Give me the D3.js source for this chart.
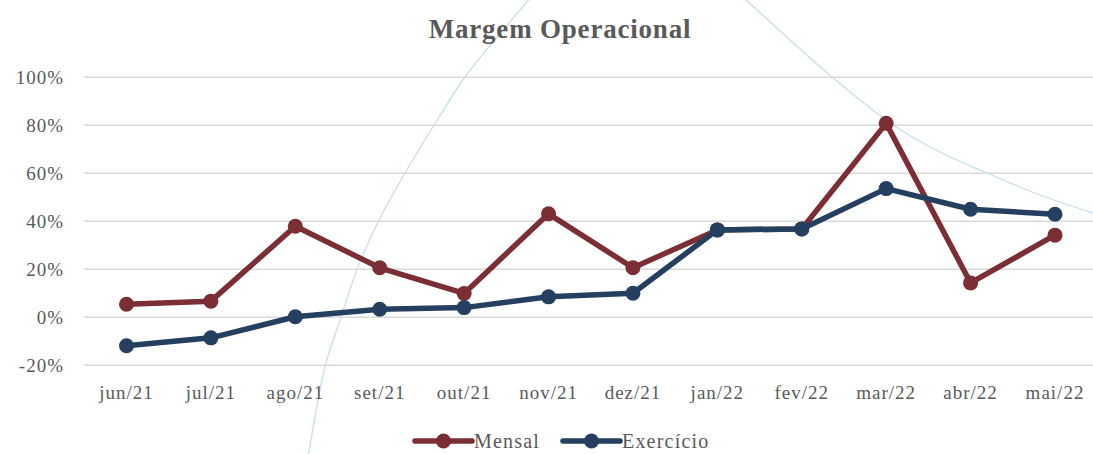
<!DOCTYPE html>
<html>
<head>
<meta charset="utf-8">
<script src="https://cdn.jsdelivr.net/npm/d3@7"></script>
<style>
  body { margin: 0; background: #fff; }
  svg text { font-family: 'Liberation Serif', serif; fill: #595959; }
</style>
</head>
<body>
<div id="chart"></div>
<script>
// data
var months = ['jun/21','jul/21','ago/21','set/21','out/21','nov/21','dez/21','jan/22','fev/22','mar/22','abr/22','mai/22'];
var mensal = [5.4, 6.7, 37.9, 20.6, 9.9, 43.1, 20.6, 36.4, 36.8, 80.8, 14.3, 34.2];
var exercicio = [-11.9, -8.6, 0.2, 3.3, 4.0, 8.5, 10.0, 36.4, 36.8, 53.6, 45.0, 42.9];
var yTicks = [-20, 0, 20, 40, 60, 80, 100];

var width = 1093, height = 454;
var svg = d3.select('#chart').append('svg')
    .attr('width', width).attr('height', height);

// scales
var x = d3.scalePoint().domain(months).range([126.5, 1055]);
var y = d3.scaleLinear().domain([-20, 100]).range([365.2, 77.3]);

// light decorative arcs in the background
var arc = d3.line().curve(d3.curveCatmullRom);
svg.append('path')
    .attr('d', arc([[308,458],[325,367],[340,320],[358,267],[378,222],[405,173],[433,127],[465,77],[503,30],[532,-4]]))
    .attr('fill', 'none').attr('stroke', '#c5dfea').attr('stroke-width', 1.3);
svg.append('path')
    .attr('d', arc([[742,-4],[790,40],[832,77],[893,125],[940,152],[987,173],[1040,195],[1096,214]]))
    .attr('fill', 'none').attr('stroke', '#c5dfea').attr('stroke-width', 1.3);

// grid lines
svg.append('g').selectAll('line')
    .data(yTicks).enter().append('line')
    .attr('x1', 84).attr('x2', width)
    .attr('y1', function(d) { return y(d); })
    .attr('y2', function(d) { return y(d); })
    .attr('stroke', '#d9d9d9').attr('stroke-width', 1.5);

// y axis labels
svg.append('g').selectAll('text')
    .data(yTicks).enter().append('text')
    .attr('x', 64).attr('y', function(d) { return y(d); })
    .attr('dy', '0.35em')
    .style('text-anchor', 'end')
    .attr('font-size', '19px').attr('letter-spacing', '1px')
    .text(function(d) { return d + '%'; });

// x axis labels
svg.append('g').selectAll('text')
    .data(months).enter().append('text')
    .attr('x', function(d) { return x(d); }).attr('y', 399)
    .style('text-anchor', 'middle')
    .attr('font-size', '19px').attr('letter-spacing', '1px')
    .text(function(d) { return d; });

// title
svg.append('text')
    .attr('x', 560).attr('y', 38)
    .style('text-anchor', 'middle')
    .attr('font-size', '27px').attr('font-weight', 'bold').attr('letter-spacing', '0.8px')
    .text('Margem Operacional');

// series
var series = [
    { name: 'Mensal', values: mensal, color: '#7b2e34' },
    { name: 'Exercício', values: exercicio, color: '#243f60' }
];
var line = d3.line()
    .x(function(d, i) { return x(months[i]); })
    .y(function(d) { return y(d); });

var sg = svg.selectAll('g.series')
    .data(series).enter().append('g').attr('class', 'series');
sg.append('path')
    .attr('d', function(d) { return line(d.values); })
    .attr('fill', 'none')
    .attr('stroke', function(d) { return d.color; })
    .attr('stroke-width', 5.5)
    .attr('stroke-linejoin', 'round');
sg.each(function(s) {
    d3.select(this).selectAll('circle')
        .data(s.values).enter().append('circle')
        .attr('cx', function(d, i) { return x(months[i]); })
        .attr('cy', function(d) { return y(d); })
        .attr('r', 7.5)
        .attr('fill', s.color);
});

// legend
var legendX = [415, 563];
var lg = svg.selectAll('g.legend')
    .data(series).enter().append('g').attr('class', 'legend')
    .attr('transform', function(d, i) { return 'translate(' + legendX[i] + ',441)'; });
lg.append('line')
    .attr('x1', 0).attr('x2', 57).attr('y1', 0).attr('y2', 0)
    .attr('stroke', function(d) { return d.color; })
    .attr('stroke-width', 5.5).attr('stroke-linecap', 'round');
lg.append('circle')
    .attr('cx', 28.5).attr('cy', 0).attr('r', 7.5)
    .attr('fill', function(d) { return d.color; });
lg.append('text')
    .attr('x', 59).attr('y', 0).attr('dy', '0.33em')
    .attr('font-size', '20px').attr('letter-spacing', '1.2px')
    .text(function(d) { return d.name; });
</script>
</body>
</html>
